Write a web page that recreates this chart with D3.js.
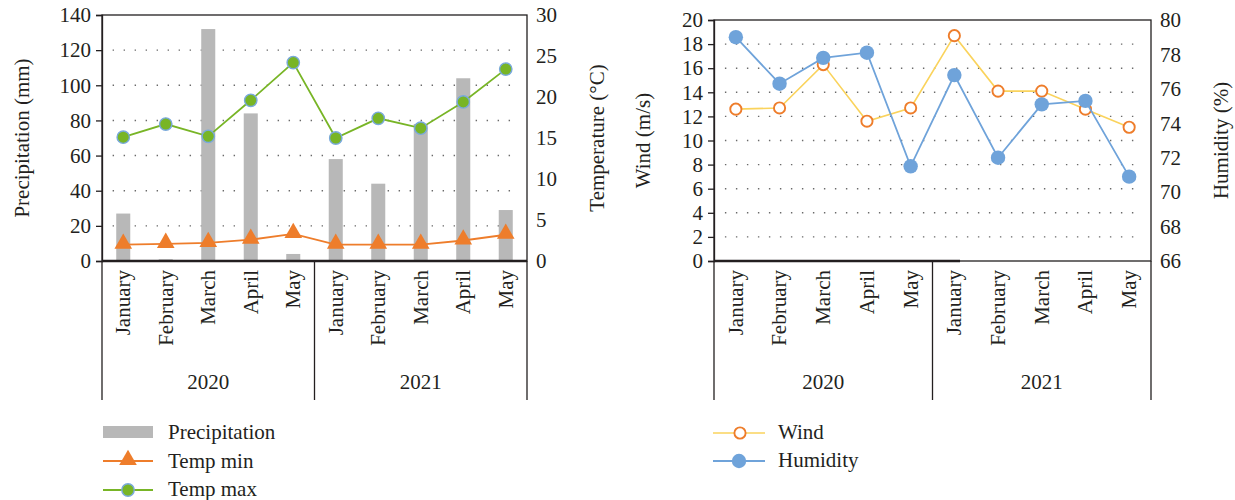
<!DOCTYPE html>
<html>
<head>
<meta charset="utf-8">
<script src="https://cdn.jsdelivr.net/npm/d3@7"></script>
<style>
  html, body { margin: 0; padding: 0; background: #fff; }
  svg text { font-family: "Liberation Serif", "Times New Roman", serif; fill: #231f20; }
</style>
</head>
<body>
<svg id="chart" width="1235" height="500"></svg>
<script>
// Monthly climate observations, January–May of 2020 and 2021
const years = ["2020", "2021"];
const months = ["January", "February", "March", "April", "May"];

const precipitation = [27, 1, 132, 84, 4, 58, 44, 78, 104, 29];     // mm
const tempMin = [2.0, 2.1, 2.2, 2.6, 3.3, 2.0, 2.0, 2.0, 2.5, 3.2];  // °C
const tempMax = [15.1, 16.7, 15.2, 19.6, 24.2, 15.0, 17.4, 16.2, 19.4, 23.4]; // °C
const wind = [12.6, 12.7, 16.3, 11.6, 12.7, 18.7, 14.1, 14.1, 12.6, 11.1];   // m/s
const humidity = [79.0, 76.3, 77.8, 78.1, 71.5, 76.8, 72.0, 75.1, 75.3, 70.9]; // %

const precipTicks = [0, 20, 40, 60, 80, 100, 120, 140];
const tempTicks = [0, 5, 10, 15, 20, 25, 30];
const windTicks = [0, 2, 4, 6, 8, 10, 12, 14, 16, 18, 20];
const humidityTicks = [66, 68, 70, 72, 74, 76, 78, 80];

const COLORS = {
  bar: "#b8b8b8",
  tmin: "#ee7d2b",
  tmax: "#78b526",
  tmaxStroke: "#79a9dc",
  windLine: "#fad35c",
  windMarker: "#ee7d2b",
  hum: "#6fa3da",
  grid: "#6a6a6a",
  axis: "#231f20"
};
const FONT = 21;

const svg = d3.select("#chart");
const cats = years.flatMap(y => months.map(m => y + "-" + m));

function frame(g, box, opts) {
  const x = d3.scaleBand().domain(cats).range([box.x0, box.x1]);
  const yL = d3.scaleLinear().domain(opts.leftDomain).range([box.y1, box.y0]);
  const yR = d3.scaleLinear().domain(opts.rightDomain).range([box.y1, box.y0]);

  // dotted horizontal gridlines
  g.append("g").selectAll("line")
    .data(opts.leftTicks.filter(t => t > opts.leftDomain[0] && t < opts.leftDomain[1]))
    .join("line")
    .attr("x1", box.x0 + x.bandwidth() * 0.25).attr("x2", box.x1 - x.bandwidth() * 0.2)
    .attr("y1", d => yL(d)).attr("y2", d => yL(d))
    .attr("stroke", COLORS.grid).attr("stroke-width", 1.4)
    .attr("stroke-dasharray", "1.4 9.6");

  // plot frame
  g.append("rect")
    .attr("x", box.x0).attr("y", box.y0)
    .attr("width", box.x1 - box.x0).attr("height", box.y1 - box.y0)
    .attr("fill", "none").attr("stroke", COLORS.axis).attr("stroke-width", 1.3);

  // left value axis
  const axL = d3.axisLeft(yL).tickValues(opts.leftTicks).tickSize(6).tickPadding(5);
  const gL = g.append("g").attr("transform", `translate(${box.x0},0)`).call(axL);
  gL.select(".domain").attr("stroke", COLORS.axis).attr("stroke-width", 1.3);
  gL.selectAll(".tick line").attr("stroke", COLORS.axis).attr("stroke-width", 1.3);
  gL.selectAll("text").attr("font-size", FONT).attr("font-family", null).attr("fill", null);

  // right value axis (labels only)
  const axR = d3.axisRight(yR).tickValues(opts.rightTicks).tickSize(0).tickPadding(opts.rightPad);
  const gR = g.append("g").attr("transform", `translate(${box.x1},0)`).call(axR);
  gR.select(".domain").remove();
  gR.selectAll("text").attr("font-size", FONT).attr("font-family", null).attr("fill", null);

  // axis titles
  g.append("text")
    .attr("transform", `translate(${opts.leftTitleX},${(box.y0 + box.y1) / 2}) rotate(-90)`)
    .attr("text-anchor", "middle").attr("dy", "0.35em").attr("font-size", FONT)
    .text(opts.leftTitle);
  g.append("text")
    .attr("transform", `translate(${opts.rightTitleX},${(box.y0 + box.y1) / 2}) rotate(-90)`)
    .attr("text-anchor", "middle").attr("dy", "0.35em").attr("font-size", FONT)
    .text(opts.rightTitle);

  // two-level category axis
  const bottom = box.y1 + 139;
  const dividers = [box.x0, x(years[1] + "-" + months[0]), box.x1];
  g.append("g").selectAll("line").data(dividers).join("line")
    .attr("x1", d => d).attr("x2", d => d)
    .attr("y1", box.y1).attr("y2", bottom)
    .attr("stroke", COLORS.axis).attr("stroke-width", 1.3);

  g.append("g").selectAll("text").data(cats).join("text")
    .attr("transform", d => `translate(${x(d) + x.bandwidth() / 2},${box.y1 + 9}) rotate(-90)`)
    .attr("text-anchor", "end").attr("dy", "0.33em").attr("font-size", FONT)
    .text(d => d.split("-")[1]);

  g.append("g").selectAll("text").data(years).join("text")
    .attr("x", (d, i) => (dividers[i] + dividers[i + 1]) / 2)
    .attr("y", box.y1 + 128)
    .attr("text-anchor", "middle").attr("font-size", FONT)
    .text(d => d);

  return { x, yL, yR };
}

// ---------- Left panel: precipitation and temperature ----------
const left = { x0: 102, x1: 527, y0: 15, y1: 261 };
const gA = svg.append("g");
const A = frame(gA, left, {
  leftDomain: [0, 140], leftTicks: precipTicks,
  rightDomain: [0, 30], rightTicks: tempTicks, rightPad: 9,
  leftTitle: "Precipitation (mm)", leftTitleX: 22,
  rightTitle: "Temperature (°C)", rightTitleX: 597
});

const barW = A.x.bandwidth() * 0.33;
gA.append("g").selectAll("rect").data(precipitation).join("rect")
  .attr("x", (d, i) => A.x(cats[i]) + (A.x.bandwidth() - barW) / 2)
  .attr("width", barW)
  .attr("y", d => A.yL(d))
  .attr("height", d => A.yL(0) - A.yL(d))
  .attr("fill", COLORS.bar);

// bottom axis line drawn over the bars
gA.append("line")
  .attr("x1", left.x0).attr("x2", left.x1).attr("y1", left.y1).attr("y2", left.y1)
  .attr("stroke", COLORS.axis).attr("stroke-width", 2.4);

const lineA = d3.line().x((d, i) => A.x(cats[i]) + A.x.bandwidth() / 2).y(d => A.yR(d));

gA.append("path").datum(tempMin).attr("d", lineA)
  .attr("fill", "none").attr("stroke", COLORS.tmin).attr("stroke-width", 1.8);
const tri = d3.symbol().type(d3.symbolTriangle).size(135);
gA.append("g").selectAll("path").data(tempMin).join("path")
  .attr("d", tri)
  .attr("transform", (d, i) => `translate(${A.x(cats[i]) + A.x.bandwidth() / 2},${A.yR(d) - 1})`)
  .attr("fill", COLORS.tmin);

gA.append("path").datum(tempMax).attr("d", lineA)
  .attr("fill", "none").attr("stroke", COLORS.tmax).attr("stroke-width", 1.8);
gA.append("g").selectAll("circle").data(tempMax).join("circle")
  .attr("cx", (d, i) => A.x(cats[i]) + A.x.bandwidth() / 2)
  .attr("cy", d => A.yR(d))
  .attr("r", 6.2)
  .attr("fill", COLORS.tmax).attr("stroke", COLORS.tmaxStroke).attr("stroke-width", 1.4);

// legend, left panel
const legA = gA.append("g");
legA.append("rect").attr("x", 103).attr("y", 426).attr("width", 50).attr("height", 12).attr("fill", COLORS.bar);
legA.append("text").attr("x", 168).attr("y", 432).attr("dy", "0.35em").attr("font-size", FONT).text("Precipitation");
legA.append("line").attr("x1", 103).attr("x2", 153).attr("y1", 461).attr("y2", 461)
  .attr("stroke", COLORS.tmin).attr("stroke-width", 1.8);
legA.append("path").attr("d", tri).attr("transform", "translate(128,460)").attr("fill", COLORS.tmin);
legA.append("text").attr("x", 168).attr("y", 461).attr("dy", "0.35em").attr("font-size", FONT).text("Temp min");
legA.append("line").attr("x1", 103).attr("x2", 153).attr("y1", 490).attr("y2", 490)
  .attr("stroke", COLORS.tmax).attr("stroke-width", 1.8);
legA.append("circle").attr("cx", 128).attr("cy", 490).attr("r", 6.2)
  .attr("fill", COLORS.tmax).attr("stroke", COLORS.tmaxStroke).attr("stroke-width", 1.4);
legA.append("text").attr("x", 168).attr("y", 489).attr("dy", "0.35em").attr("font-size", FONT).text("Temp max");

// ---------- Right panel: wind and humidity ----------
const right = { x0: 714, x1: 1151, y0: 20, y1: 261 };
const gB = svg.append("g");
const B = frame(gB, right, {
  leftDomain: [0, 20], leftTicks: windTicks,
  rightDomain: [66, 80], rightTicks: humidityTicks, rightPad: 9,
  leftTitle: "Wind (m/s)", leftTitleX: 643,
  rightTitle: "Humidity (%)", rightTitleX: 1221
});

// heavier stroke on the left part of the category axis
gB.append("line")
  .attr("x1", right.x0).attr("x2", B.x(years[1] + "-" + months[0]) + B.x.bandwidth() * 0.63)
  .attr("y1", right.y1).attr("y2", right.y1)
  .attr("stroke", COLORS.axis).attr("stroke-width", 2.4);

const cxB = (d, i) => B.x(cats[i]) + B.x.bandwidth() / 2;

gB.append("path").datum(wind)
  .attr("d", d3.line().x(cxB).y(d => B.yL(d)))
  .attr("fill", "none").attr("stroke", COLORS.windLine).attr("stroke-width", 1.6);
gB.append("g").selectAll("circle").data(wind).join("circle")
  .attr("cx", cxB).attr("cy", d => B.yL(d)).attr("r", 5.6)
  .attr("fill", "#fff").attr("stroke", COLORS.windMarker).attr("stroke-width", 1.9);

gB.append("path").datum(humidity)
  .attr("d", d3.line().x(cxB).y(d => B.yR(d)))
  .attr("fill", "none").attr("stroke", COLORS.hum).attr("stroke-width", 1.8);
gB.append("g").selectAll("circle").data(humidity).join("circle")
  .attr("cx", cxB).attr("cy", d => B.yR(d)).attr("r", 7.2)
  .attr("fill", COLORS.hum);

// legend, right panel
const legB = gB.append("g");
legB.append("line").attr("x1", 713).attr("x2", 765).attr("y1", 433).attr("y2", 433)
  .attr("stroke", COLORS.windLine).attr("stroke-width", 1.6);
legB.append("circle").attr("cx", 740).attr("cy", 433).attr("r", 5.6)
  .attr("fill", "#fff").attr("stroke", COLORS.windMarker).attr("stroke-width", 1.9);
legB.append("text").attr("x", 778).attr("y", 432).attr("dy", "0.35em").attr("font-size", FONT).text("Wind");
legB.append("line").attr("x1", 713).attr("x2", 765).attr("y1", 461).attr("y2", 461)
  .attr("stroke", COLORS.hum).attr("stroke-width", 1.8);
legB.append("circle").attr("cx", 739).attr("cy", 461).attr("r", 7.2).attr("fill", COLORS.hum);
legB.append("text").attr("x", 778).attr("y", 460).attr("dy", "0.35em").attr("font-size", FONT).text("Humidity");
</script>
</body>
</html>
